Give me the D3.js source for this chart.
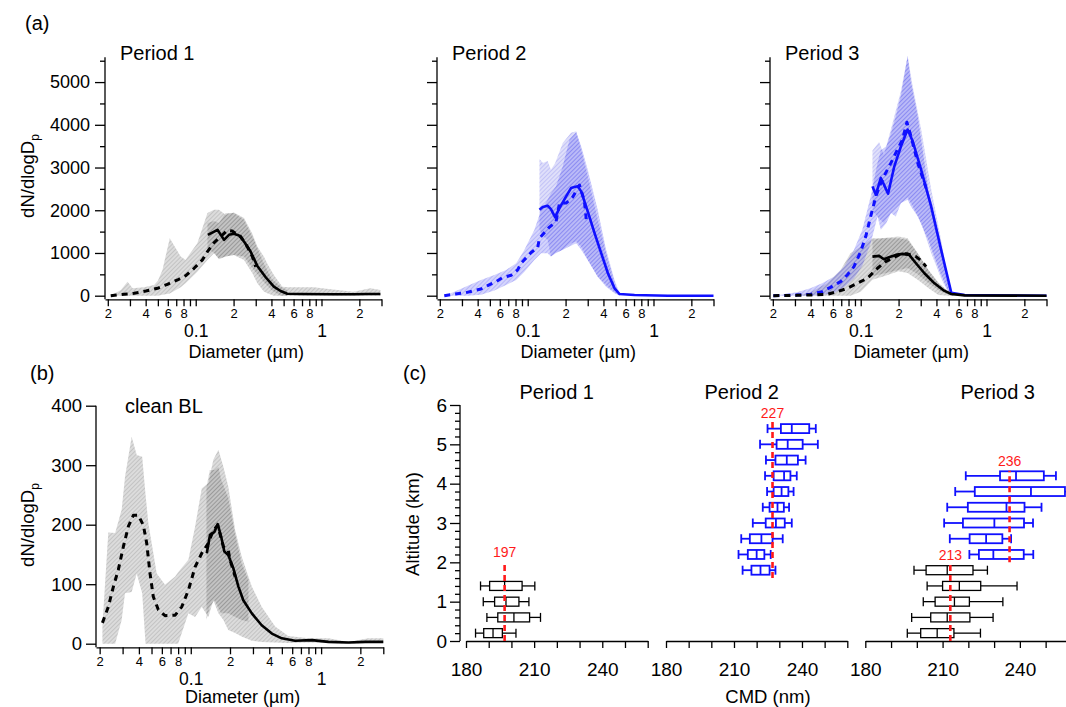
<!DOCTYPE html>
<html><head><meta charset="utf-8">
<script src="https://cdn.jsdelivr.net/npm/d3@7"></script>
<style>body{margin:0;background:#fff}svg{display:block}</style>
</head><body><svg id="c" width="1066" height="707"></svg>
<script>
// ---------------- DATA ----------------
const periodTitles = ["Period 1", "Period 2", "Period 3"];
const yTicksA = [0, 1000, 2000, 3000, 4000, 5000];
const yTicksB = [0, 100, 200, 300, 400];
const yTicksC = [0, 1, 2, 3, 4, 5, 6];
const xTicksC = [180, 190, 200, 210, 220, 230, 240, 250, 260];

// Panel (a) Period 1 (black) : [diameter µm, dN/dlogDp]
const p1Dash = [[0.0211,0],[0.027,33],[0.0324,56],[0.0401,110],[0.0497,173],[0.0596,267],[0.0716,368],[0.0833,470],[0.097,642],[0.113,838],[0.124,1033],[0.14,1244],[0.158,1385],[0.178,1526],[0.195,1512],[0.228,1385],[0.257,1150],[0.282,915],[0.3,680]];
const p1Solid = [[0.125,1425],[0.149,1542],[0.168,1307],[0.184,1425],[0.201,1448],[0.221,1408],[0.242,1268],[0.273,1033],[0.309,697],[0.36,432],[0.418,211],[0.473,110],[0.534,47],[0.681,40],[1.25,33],[1.8,33],[2.3,40],[2.94,40]];
// envelopes : [diameter, low, high]
const p1DashEnv = [[0.021,0,0],[0.0254,0,133],[0.0287,0,329],[0.0315,0,173],[0.0389,0,196],[0.0467,0,250],[0.05,0,350],[0.0544,20,603],[0.0622,50,1347],[0.076,200,915],[0.083,290,838],[0.103,563,1230],[0.124,838,1934],[0.14,995,2012],[0.153,854,2012],[0.173,915,1894],[0.201,955,1948],[0.242,838,1817],[0.282,525,1450],[0.309,290,1150],[0.348,100,915],[0.371,56,750],[0.418,0,486],[0.488,0,211],[0.55,0,196],[0.87,0,196],[1.18,0,149],[1.8,0,94],[2.45,0,173],[2.94,0,133]];
const p1SolidEnv = [[0.124,1100,1700],[0.14,1000,1750],[0.153,870,1700],[0.173,915,1934],[0.201,955,1934],[0.242,915,1777],[0.29,603,1307],[0.345,330,780],[0.4,133,400],[0.473,0,211],[0.534,0,133]];

// Panel (a) Period 2 (blue)
const p2Dash = [[0.0217,0],[0.0261,39],[0.0313,63],[0.0365,110],[0.0425,157],[0.048,235],[0.056,329],[0.0632,423],[0.0738,478],[0.0832,603],[0.0885,760],[0.1064,1010],[0.12,1127],[0.124,1347],[0.149,1606],[0.168,1737],[0.179,2168],[0.202,2168],[0.228,2309],[0.258,2591],[0.282,2223],[0.292,1793]];
const p2Solid = [[0.124,2012],[0.1316,2074],[0.144,2105],[0.153,2028],[0.165,1840],[0.179,2051],[0.202,2324],[0.221,2520],[0.235,2543],[0.25,2560],[0.266,2442],[0.3,1972],[0.34,1465],[0.384,995],[0.434,525],[0.49,173],[0.537,40],[0.706,16],[1.3,0],[3,0]];
const p2DashEnv = [[0.0217,0,0],[0.0261,0,94],[0.0334,0,235],[0.0425,20,368],[0.0543,120,486],[0.0673,250,603],[0.081,368,760],[0.0942,563,1073],[0.113,838,1542],[0.128,995,2012],[0.144,995,2246],[0.153,915,2400],[0.168,1000,2559],[0.19,1073,3028],[0.215,1150,3655],[0.243,1230,3826],[0.266,1073,3498],[0.3,838,2950],[0.36,446,2012],[0.42,211,1073],[0.49,56,368],[0.537,0,56]];
const p2SolidEnv = [[0.124,1542,3201],[0.132,1400,3108],[0.144,1307,3155],[0.153,915,2950],[0.165,995,3100],[0.19,1073,3577],[0.221,1230,3812],[0.243,1268,3850],[0.266,1150,3420],[0.3,838,2794],[0.36,446,1777],[0.434,211,837],[0.5,56,211],[0.54,0,40]];

// Panel (a) Period 3 (blue = free troposphere, black = boundary layer)
const p3BlueDash = [[0.0202,0],[0.0311,16],[0.0398,31],[0.0493,94],[0.0575,196],[0.0692,329],[0.0782,486],[0.0884,680],[0.1,1033],[0.1096,1385],[0.12,1855],[0.132,2324],[0.1445,2638],[0.158,2873],[0.174,3108],[0.19,3343],[0.215,3655],[0.233,4061],[0.251,3732],[0.284,3108],[0.331,2520]];
const p3BlueSolid = [[0.124,2559],[0.132,2364],[0.1445,2756],[0.153,2599],[0.165,2387],[0.185,3028],[0.209,3498],[0.236,3890],[0.259,3615],[0.302,2951],[0.363,2090],[0.436,1073],[0.525,70],[0.67,16],[3,0]];
const p3BlackDash = [[0.0202,0],[0.0311,8],[0.0398,16],[0.054,31],[0.065,94],[0.0782,173],[0.094,290],[0.113,408],[0.136,642],[0.158,800],[0.179,876],[0.209,979],[0.236,979],[0.275,915],[0.302,822],[0.331,680]];
const p3BlackSolid = [[0.124,915],[0.14,932],[0.153,854],[0.168,900],[0.19,955],[0.215,979],[0.243,955],[0.275,760],[0.321,525],[0.386,290],[0.46,118],[0.525,40],[0.67,8],[3,0]];
const p3BlueDashEnv = [[0.0202,0,0],[0.0311,0,78],[0.0398,0,173],[0.0493,20,290],[0.0612,60,446],[0.0735,200,680],[0.0884,400,1073],[0.103,700,1542],[0.12,1230,2324],[0.136,1855,3108],[0.1445,1542,3400],[0.16,1700,3500],[0.174,1934,3800],[0.19,1855,4200],[0.209,2168,4700],[0.236,2246,5610],[0.251,2090,5000],[0.284,1855,4202],[0.345,1300,2481],[0.42,600,1385],[0.48,200,446],[0.525,0,70]];
const p3BlueSolidEnv = [[0.124,2000,3400],[0.14,1800,3600],[0.153,1700,3300],[0.174,1934,3900],[0.209,2168,4800],[0.236,2300,5610],[0.259,2100,4900],[0.302,1700,3900],[0.363,1000,2500],[0.436,400,1300],[0.5,60,300],[0.54,0,40]];
const p3BlackDashEnv = [[0.03,0,0],[0.0398,0,78],[0.054,0,290],[0.0692,0,603],[0.083,0,995],[0.1,94,1150],[0.124,376,1347],[0.153,454,1347],[0.2,571,1347],[0.236,532,1308],[0.284,376,995],[0.345,180,603],[0.415,16,290],[0.5,0,94],[0.6,0,16]];
const p3BlackSolidEnv = [[0.124,454,1308],[0.153,520,1350],[0.2,603,1385],[0.236,650,1347],[0.284,500,995],[0.345,300,603],[0.42,120,290],[0.5,20,80],[0.55,0,10]];

// Panel (b) clean BL
const bDash = [[0.021,35],[0.0233,62],[0.0255,96],[0.0278,124],[0.0304,163],[0.0332,197],[0.0363,216],[0.0396,216],[0.0433,199],[0.0459,169],[0.0487,118],[0.0516,79],[0.0564,57],[0.0635,47],[0.0759,48],[0.0853,62],[0.0959,90],[0.108,129],[0.1214,152],[0.1365,169],[0.149,191],[0.161,199],[0.178,163],[0.194,157],[0.2,141],[0.219,113]];
const bSolid = [[0.1327,152],[0.1406,183],[0.152,188],[0.161,201],[0.171,180],[0.181,155],[0.194,149],[0.212,127],[0.232,96],[0.253,73],[0.294,51],[0.35,31],[0.419,17],[0.499,9],[0.631,5],[0.849,6],[1.138,3],[1.62,2],[2.18,3],[3,3]];
const bDashEnv = [[0.021,0,30],[0.0233,0,187],[0.0263,0,186],[0.0295,40,225],[0.0313,85,280],[0.0352,87,348],[0.0385,118,317],[0.0424,85,314],[0.045,0,250],[0.0473,0,202],[0.0548,0,118],[0.0635,0,99],[0.0759,0,113],[0.08,0,120],[0.0959,51,141],[0.108,45,197],[0.1214,62,261],[0.1365,45,270],[0.149,73,309],[0.163,51,326],[0.178,40,297],[0.194,23,264],[0.219,18,191],[0.246,12,146],[0.294,5,96],[0.35,3,62],[0.444,2,29],[0.56,1,13],[0.8,2,9],[1.138,1,9],[1.62,0,3],[2.3,1,9],[3,1,9]];
const bSolidEnv = [[0.132,40,263],[0.14,62,292],[0.152,73,292],[0.163,60,297],[0.171,51,276],[0.194,51,245],[0.219,45,184],[0.246,40,135],[0.277,37,107]];

// Panel (c) CMD box plots : [altitude km, whisker low, Q1, median, Q3, whisker high]
const cP1Black = [[0.2,184.2,187.8,191.9,196,202],[0.6,189.2,194,201.1,208,212.8],[1.0,187.6,192.6,197.6,203.3,207.7],[1.4,186.4,190.4,197,204.7,210.3]];
const cP2Blue = [[1.8,213.8,217.7,221.7,225.7,228.3],[2.2,212,216.1,220,223.4,226.2],[2.6,213.2,217,222.1,227,231.5],[3.0,218.3,224,228.5,232.4,235.5],[3.4,222.7,225.7,229.2,232,234.3],[3.8,224.6,227.5,231,234,236.3],[4.2,223.7,227.5,232.1,234.9,237.7],[4.6,224.1,228.3,233.3,238.2,241.6],[5.0,221.5,228.8,233.7,240.3,247],[5.4,224.8,230.7,235.5,243.2,246.1]];
const cP3Black = [[0.2,196.3,201.5,207.9,214.4,224.7],[0.6,198,205.4,211.8,220.6,229.6],[1.0,202.5,207.1,214.6,220.4,233.4],[1.4,204,210,216.5,224.8,238.9],[1.8,198.9,203.6,211.8,221.8,227.4]];
const cP3Blue = [[2.2,220.4,224.1,229.7,241.5,245.2],[2.6,212.8,220.5,226.9,233.2,236.6],[3.0,210.6,217.9,230.1,241.6,245.1],[3.4,211.8,219.8,234.8,241.8,248.4],[3.8,214.9,222.5,244.3,257.5,262],[4.2,219,232.3,238.5,249.3,254]];
// Mean CMD reference lines : [value nm, altitude from, altitude to, label altitude]
const cP1Mean = [[197, 0, 2.0, 2.14]];
const cP2Mean = [[227, 1.6, 5.6, 5.67]];
const cP3Mean = [[213, 0, 1.95, 2.06], [236, 2.0, 4.33, 4.45]];

// ---------------- DRAWING ----------------
const FONT = "'Liberation Sans', Arial, Helvetica, sans-serif";
const BLUE = "#1010ff";
const svg = d3.select("#c");
const defs = svg.append("defs");
// hatched, semi-transparent fill (uniform tint + fine diagonal lines)
function hatch(id, color, bgOp, lineOp) {
  const p = defs.append("pattern").attr("id", id).attr("patternUnits", "userSpaceOnUse")
    .attr("width", 3).attr("height", 3).attr("patternTransform", "rotate(45)");
  p.append("rect").attr("width", 3).attr("height", 3).attr("fill", color).attr("fill-opacity", bgOp);
  p.append("rect").attr("width", 1).attr("height", 3).attr("fill", color).attr("fill-opacity", lineOp);
}
hatch("hGrayL", "#777777", 0.26, 0.25);
hatch("hGrayD", "#444444", 0.17, 0.18);
hatch("hBlueL", "#3c3cf0", 0.22, 0.2);
hatch("hBlueD", "#2020e0", 0.14, 0.15);

function text(x, y, s, size, opt = {}) {
  const t = svg.append("text").attr("x", x).attr("y", y).attr("font-size", size)
    .attr("font-family", FONT).attr("fill", opt.fill || "#000")
    .attr("text-anchor", opt.anchor || "start").text(s);
  if (opt.rotate) t.attr("transform", `rotate(-90,${x},${y})`);
  return t;
}
function styleAxis(g, size) {
  g.attr("font-family", FONT).attr("font-size", size);
  g.selectAll("path,line").attr("stroke", "#000").attr("stroke-width", 1.3);
  g.selectAll("text").attr("fill", "#000");
}
function logTickVals(x) {
  const [a, b] = x.domain(), out = [];
  [0.01, 0.1, 1].forEach(dec => { for (let m = 1; m <= 9; m++) { const v = +(m * dec).toPrecision(3); if (v >= a && v <= b) out.push(v); } });
  return out;
}
function mant(v) { return Math.round(v / Math.pow(10, Math.floor(Math.log10(v) + 1e-9))); }

function logXAxis(x, yPos, titleY) {
  const g = svg.append("g").attr("transform", `translate(0,${yPos})`);
  g.call(d3.axisBottom(x).tickValues(logTickVals(x)).tickSize(7).tickSizeOuter(0).tickPadding(2.5)
    .tickFormat(v => [2, 4, 6, 8].includes(mant(v)) ? String(mant(v)) : ""));
  styleAxis(g, 13);
  const g2 = svg.append("g").attr("transform", `translate(0,${yPos})`);
  g2.call(d3.axisBottom(x).tickValues([0.1, 1]).tickSize(0).tickPadding(25.5).tickFormat(v => v === 1 ? "1" : "0.1"));
  styleAxis(g2, 17.5);
  g2.select(".domain").remove();
  const r = x.range();
  text((r[0] + r[1]) / 2 + 3, titleY, "Diameter (µm)", 18, { anchor: "middle" });
}
function yAxis(y, xPos, major, minor, size, labels, bottom, pad) {
  const g = svg.append("g").attr("transform", `translate(${xPos},0)`);
  g.call(d3.axisLeft(y).tickValues(major).tickSize(10).tickSizeOuter(0).tickPadding(pad)
    .tickFormat(labels ? d3.format("d") : ""));
  styleAxis(g, size);
  g.select(".domain").remove();
  if (minor.length) {
    const gm = svg.append("g").attr("transform", `translate(${xPos},0)`);
    gm.call(d3.axisLeft(y).tickValues(minor).tickSize(5).tickSizeOuter(0).tickFormat(""));
    styleAxis(gm, size);
    gm.select(".domain").remove();
  }
  const r = y.range();
  svg.append("line").attr("x1", xPos).attr("x2", xPos).attr("y1", bottom).attr("y2", Math.min(r[0], r[1]))
    .attr("stroke", "#000").attr("stroke-width", 1.3);
}
function envelope(x, y, data, fill) {
  svg.append("path").datum(data).attr("fill", `url(#${fill})`).attr("stroke", "none")
    .attr("d", d3.area().x(d => x(d[0])).y0(d => y(d[1])).y1(d => y(d[2])));
}
function curve(x, y, data, color, dashed) {
  svg.append("path").datum(data).attr("fill", "none").attr("stroke", color)
    .attr("stroke-width", dashed ? 3 : 2.6).attr("stroke-dasharray", dashed ? "6,5" : null)
    .attr("stroke-linejoin", "round")
    .attr("d", d3.line().x(d => x(d[0])).y(d => y(d[1])));
}

// ----- Panel (a)
const aLeft = [105, 437, 770];
const yA = d3.scaleLinear().domain([0, 5580]).range([295.7, 57.3]);
const yMinorA = d3.range(500, 5600, 1000);
const aX = aLeft.map(l => d3.scaleLog().domain([0.019, 3]).range([l, l + 276.5]));
aX.forEach((x, i) => {
  yAxis(yA, aLeft[i], yTicksA, yMinorA, 18, i === 0, 299.3, 5);
  logXAxis(x, 299.3, 358);
  text(aLeft[i] + 15, 60, periodTitles[i], 20);
});
// Period 1
envelope(aX[0], yA, p1DashEnv, "hGrayL");
envelope(aX[0], yA, p1SolidEnv, "hGrayD");
curve(aX[0], yA, p1Dash, "#000", true);
curve(aX[0], yA, p1Solid, "#000", false);
// Period 2
envelope(aX[1], yA, p2DashEnv, "hBlueL");
envelope(aX[1], yA, p2SolidEnv, "hBlueD");
curve(aX[1], yA, p2Dash, BLUE, true);
curve(aX[1], yA, p2Solid, BLUE, false);
// Period 3
envelope(aX[2], yA, p3BlackDashEnv, "hGrayL");
envelope(aX[2], yA, p3BlackSolidEnv, "hGrayD");
envelope(aX[2], yA, p3BlueDashEnv, "hBlueL");
envelope(aX[2], yA, p3BlueSolidEnv, "hBlueD");
curve(aX[2], yA, p3BlueDash, BLUE, true);
curve(aX[2], yA, p3BlueSolid, BLUE, false);
curve(aX[2], yA, p3BlackDash, "#000", true);
curve(aX[2], yA, p3BlackSolid, "#000", false);

text(25, 30, "(a)", 20);
const yl = text(33.5, 176, "dN/dlogD", 18.5, { anchor: "middle", rotate: true });
yl.append("tspan").attr("font-size", 12).attr("dy", 5).text("p");

// ----- Panel (b)
const xB = d3.scaleLog().domain([0.01875, 3]).range([96, 383.3]);
const yB = d3.scaleLinear().domain([0, 400]).range([643.7, 405.7]);
yAxis(yB, 96, yTicksB, [], 18.5, true, 647.3, 4);
logXAxis(xB, 647.3, 703);
envelope(xB, yB, bDashEnv, "hGrayL");
envelope(xB, yB, bSolidEnv, "hGrayD");
curve(xB, yB, bDash, "#000", true);
curve(xB, yB, bSolid, "#000", false);
text(30, 380, "(b)", 20);
text(125, 413, "clean BL", 20);
const yl2 = text(33.5, 525, "dN/dlogD", 18.5, { anchor: "middle", rotate: true });
yl2.append("tspan").attr("font-size", 12).attr("dy", 5).text("p");

// ----- Panel (c)
const yC = d3.scaleLinear().domain([0, 6]).range([641, 405]);
const yMinorC = d3.range(0, 6.01, 0.2).map(v => +v.toFixed(1)).filter(v => Math.abs(v - Math.round(v)) > 0.01);
yAxis(yC, 460, yTicksC, yMinorC, 19, true, 641, 3);
const cRanges = [[466, 647.7], [666, 847.3], [865.3, 1071.4]];
const cTitleX = [556.7, 741.7, 997.7];
const cX = cRanges.map(r => d3.scaleLinear().domain([180, 260]).range(r));
cX.forEach((x, i) => {
  const g = svg.append("g").attr("transform", "translate(0,641)");
  g.call(d3.axisBottom(x).tickValues(xTicksC).tickSize(7).tickSizeOuter(0).tickPadding(14.5)
    .tickFormat(v => v % 30 === 0 ? String(v) : ""));
  styleAxis(g, 19);
  text(cTitleX[i], 399, periodTitles[i], 20, { anchor: "middle" });
});
text(403, 380, "(c)", 20);
text(418.5, 524, "Altitude (km)", 18.5, { anchor: "middle", rotate: true });
text(768, 703, "CMD (nm)", 18.5, { anchor: "middle" });

function boxes(x, data, color, sw) {
  const h = 9;
  const g = svg.append("g").attr("stroke", color).attr("stroke-width", sw).attr("fill", "none");
  data.forEach(d => {
    const [alt, wl, q1, md, q3, wh] = d, yy = yC(alt);
    g.append("line").attr("x1", x(wl)).attr("x2", x(q1)).attr("y1", yy).attr("y2", yy);
    g.append("line").attr("x1", x(q3)).attr("x2", x(wh)).attr("y1", yy).attr("y2", yy);
    g.append("line").attr("x1", x(wl)).attr("x2", x(wl)).attr("y1", yy - h / 2).attr("y2", yy + h / 2);
    g.append("line").attr("x1", x(wh)).attr("x2", x(wh)).attr("y1", yy - h / 2).attr("y2", yy + h / 2);
    g.append("rect").attr("x", x(q1)).attr("y", yy - h / 2).attr("width", x(q3) - x(q1)).attr("height", h);
    g.append("line").attr("x1", x(md)).attr("x2", x(md)).attr("y1", yy - h / 2).attr("y2", yy + h / 2);
  });
}
function meanLines(x, data) {
  data.forEach(d => {
    const [v, a0, a1, la] = d;
    svg.append("line").attr("x1", x(v)).attr("x2", x(v)).attr("y1", yC(a0)).attr("y2", yC(a1))
      .attr("stroke", "#ff1a1a").attr("stroke-width", 2.6).attr("stroke-dasharray", "6,4");
    text(x(v), yC(la), String(v), 14, { anchor: "middle", fill: "#ff1a1a" });
  });
}
boxes(cX[0], cP1Black, "#000", 1.3);
boxes(cX[1], cP2Blue, BLUE, 1.8);
boxes(cX[2], cP3Black, "#000", 1.3);
boxes(cX[2], cP3Blue, BLUE, 1.8);
meanLines(cX[0], cP1Mean);
meanLines(cX[1], cP2Mean);
meanLines(cX[2], cP3Mean);
</script></body></html>
